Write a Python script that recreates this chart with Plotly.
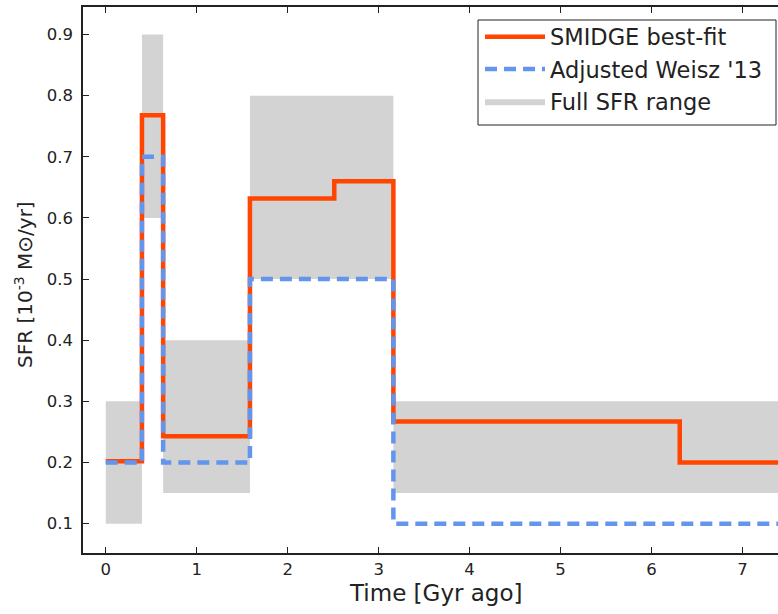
import plotly.graph_objects as go

# Bin edges (Gyr ago)
smidge_edges = [0, 0.398, 0.631, 1.585, 2.512, 3.162, 6.310, 10.0]
smidge_sfr = [0.202, 0.768, 0.243, 0.632, 0.660, 0.267, 0.200]

weisz_edges = [0, 0.398, 0.631, 1.585, 3.162, 10.0]
weisz_sfr = [0.200, 0.700, 0.200, 0.500, 0.100]

range_edges = [0, 0.398, 0.631, 1.585, 3.162, 10.0]
range_low = [0.10, 0.60, 0.15, 0.50, 0.15]
range_high = [0.30, 0.90, 0.40, 0.80, 0.30]

x_ticks = [0, 1, 2, 3, 4, 5, 6, 7]
y_ticks = [0.1, 0.2, 0.3, 0.4, 0.5, 0.6, 0.7, 0.8, 0.9]

W, H = 778, 614
ML, MR, MT, MB = 83, 0, 7, 61
PW, PH = W - ML - MR, H - MT - MB
PLOT_TOP, PLOT_BOTTOM, PLOT_LEFT = MT, H - MB, ML


def px_x(p):
    return (p - PLOT_LEFT) / PW


def px_y(p):
    return (PLOT_BOTTOM - p) / PH


fig = go.Figure()

# gray range rectangles
gx, gy = [], []
for i in range(len(range_low)):
    x0, x1 = range_edges[i], range_edges[i + 1]
    lo, hi = range_low[i], range_high[i]
    gx += [x0, x1, x1, x0, x0, None]
    gy += [lo, lo, hi, hi, lo, None]
fig.add_trace(go.Scatter(
    x=gx, y=gy, mode="lines", fill="toself", fillcolor="#d3d3d3",
    line=dict(width=0, color="#d3d3d3"), name="Full SFR range",
    legendrank=3, hoverinfo="skip"))

fig.add_trace(go.Scatter(
    x=smidge_edges, y=smidge_sfr + [smidge_sfr[-1]], mode="lines",
    line=dict(shape="hv", color="#ff4500", width=4.5),
    name="SMIDGE best-fit", legendrank=1))

fig.add_trace(go.Scatter(
    x=weisz_edges, y=weisz_sfr + [weisz_sfr[-1]], mode="lines",
    line=dict(shape="hv", color="#6495ed", width=4.5, dash="12px,7px"),
    name="Adjusted Weisz '13", legendrank=2))

font = "DejaVu Sans"

fig.update_layout(
    width=W, height=H,
    margin=dict(l=ML, r=MR, t=MT, b=MB),
    paper_bgcolor="white", plot_bgcolor="white",
    font=dict(family=font, color="#222", size=16.5),
    showlegend=True,
    legend=dict(x=px_x(480), y=px_y(15.5), xanchor="left", yanchor="top",
                borderwidth=0, bgcolor="rgba(0,0,0,0)",
                font=dict(family=font, size=22.5, color="#222"),
                itemwidth=60, tracegroupgap=0),
    shapes=[dict(type="rect", xref="paper", yref="paper",
                 x0=px_x(478), x1=px_x(776), y0=px_y(125), y1=px_y(20),
                 line=dict(color="#222", width=1), fillcolor="white", layer="above")],
    xaxis=dict(range=[-0.25, 7.39], tickvals=x_ticks, ticktext=[str(v) for v in x_ticks],
               ticks="inside", ticklen=6, tickwidth=1, tickcolor="#222",
               showline=True, linecolor="#222", linewidth=1.5, mirror="ticks",
               showgrid=False, zeroline=False),
    yaxis=dict(range=[0.052, 0.945], tickvals=y_ticks, ticktext=[f"{v:.1f}" for v in y_ticks],
               ticks="inside", ticklen=6, tickwidth=1, tickcolor="#222",
               showline=True, linecolor="#222", linewidth=1.5, mirror=False,
               showgrid=False, zeroline=False, ticklabelstandoff=5),
    annotations=[
        dict(text="Time [Gyr ago]", xref="paper", yref="paper",
             x=px_x(435.7), y=px_y(593), xanchor="center", yanchor="middle",
             showarrow=False, font=dict(family=font, size=23, color="#222")),
        dict(text="SFR [10<sup>-3</sup> M⊙/yr]", xref="paper", yref="paper",
             x=px_x(24), y=px_y(285), xanchor="center", yanchor="middle",
             textangle=-90, showarrow=False, font=dict(family=font, size=20, color="#222")),
    ],
)

fig.write_html("out.html", config={"displayModeBar": False},
               post_script="document.body.style.margin='0';document.body.style.overflow='hidden';")
